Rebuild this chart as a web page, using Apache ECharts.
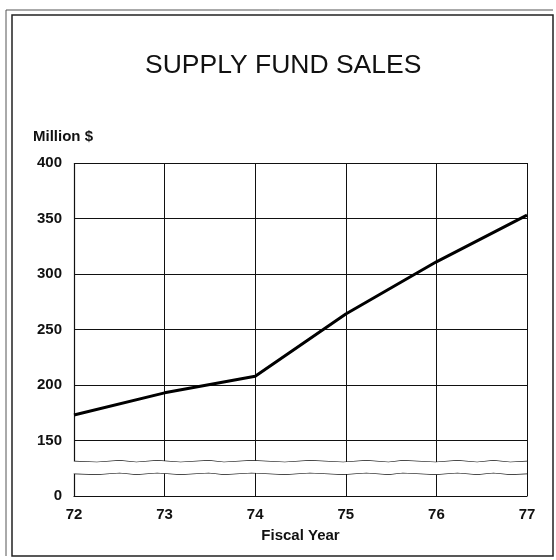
<!DOCTYPE html>
<html>
<head>
<meta charset="utf-8">
<script src="https://cdn.jsdelivr.net/npm/echarts@6/dist/echarts.min.js"></script>
<style>
  html, body { margin: 0; padding: 0; background: #fff; }
  #main { width: 556px; height: 560px; }
</style>
</head>
<body>
<div id="main"></div>
<script>
var years = [72, 73, 74, 75, 76, 77];
var sales = [173, 193, 208, 264, 311, 353];
var yTicks = [0, 150, 200, 250, 300, 350, 400];
var gridValues = [150, 200, 250, 300, 350, 400];

var ink = '#111';
var font = 'Liberation Sans, Arial, sans-serif';

var points = years.map(function (y, i) { return [y, sales[i]]; });

var dom = document.getElementById('main');
var myChart = echarts.init(dom);

// the break prunes ticks near its edges, so the axis uses a fine interval
// and the horizontal rules are drawn as mark lines at the labelled values
var option = {
    backgroundColor: '#fff',
    animation: false,
    title: [{
        text: 'SUPPLY FUND SALES',
        left: 140,
        top: 47,
        textStyle: { fontFamily: font, fontSize: 26.5, fontWeight: 'normal', color: ink }
    }, {
        text: 'Million $',
        left: 28,
        top: 124,
        textStyle: { fontFamily: font, fontSize: 15, fontWeight: 'bold', color: ink }
    }],
    graphic: [{
        type: 'rect',
        shape: { x: 12, y: 15, width: 541, height: 541 },
        style: { fill: 'none', stroke: '#222', lineWidth: 1.5 },
        silent: true
    }, {
        type: 'polyline',
        shape: { points: [[6, 556], [6, 10], [553, 10]] },
        style: { fill: 'none', stroke: '#555', lineWidth: 1 },
        silent: true
    }],
    grid: { left: 74, right: 29, top: 163, bottom: 64 },
    xAxis: {
        type: 'value',
        min: 72,
        max: 77,
        interval: 1,
        name: 'Fiscal Year',
        nameLocation: 'middle',
        nameGap: 32,
        nameTextStyle: { fontFamily: font, fontSize: 15, fontWeight: 'bold', color: ink },
        axisLine: { show: true, lineStyle: { color: ink, width: 1.2 } },
        axisTick: { show: false },
        axisLabel: { margin: 11, fontFamily: font, fontSize: 15, fontWeight: 'bold', color: ink },
        splitLine: { show: true, lineStyle: { color: ink, width: 1 } }
    },
    yAxis: {
        type: 'value',
        min: 0,
        max: 400,
        interval: 10,
        breaks: [{ start: 20.4, end: 131, gap: '3.5%' }],
        breakArea: {
            show: true,
            expandOnClick: false,
            zigzagAmplitude: 0.8,
            zigzagMinSpan: 14,
            zigzagMaxSpan: 34,
            zigzagZ: 100,
            itemStyle: { color: '#fff', borderColor: ink, borderWidth: 1.3, borderType: 'solid', opacity: 1 }
        },
        axisLine: { show: true, lineStyle: { color: ink, width: 1.2 } },
        axisTick: { show: false },
        axisLabel: {
            margin: 12,
            fontFamily: font,
            fontSize: 15,
            fontWeight: 'bold',
            color: ink,
            formatter: function (v) {
                return yTicks.indexOf(v) >= 0 ? String(v) : '';
            }
        },
        splitLine: { show: false }
    },
    series: [{
        type: 'line',
        data: points,
        symbol: 'none',
        lineStyle: { color: '#000', width: 3 },
        z: 3,
        markLine: {
            silent: true,
            symbol: 'none',
            label: { show: false },
            lineStyle: { color: ink, width: 1, type: 'solid' },
            z: 1,
            data: gridValues.map(function (v) { return { yAxis: v }; })
        }
    }]
};

myChart.setOption(option);
</script>
</body>
</html>
